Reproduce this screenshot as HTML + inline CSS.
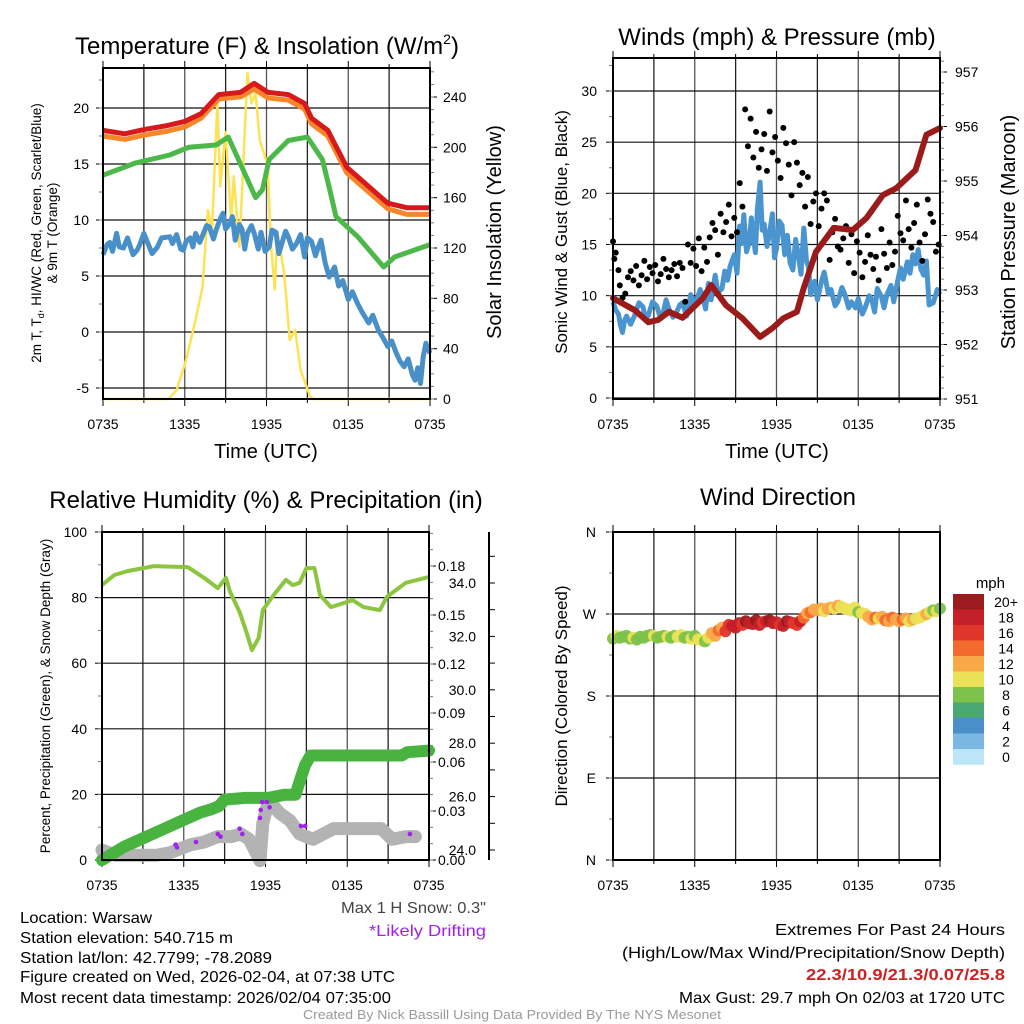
<!DOCTYPE html>
<html><head><meta charset="utf-8"><style>
html,body{margin:0;padding:0;background:#fff;}
svg{display:block;font-family:"Liberation Sans",sans-serif;}
</style></head><body>
<svg id="fig" width="1024" height="1024" viewBox="0 0 1024 1024" xmlns="http://www.w3.org/2000/svg">
<rect x="0" y="0" width="1024" height="1024" fill="#fff"/>
<g id="layer"></g>
<text x="267" y="54" font-size="24" text-anchor="middle">Temperature (F) &amp; Insolation (W/m<tspan font-size="14" dy="-10">2</tspan><tspan dy="10">)</tspan></text>
<text x="777" y="45" font-size="24" text-anchor="middle">Winds (mph) &amp; Pressure (mb)</text>
<text x="266" y="508" font-size="24" text-anchor="middle">Relative Humidity (%) &amp; Precipitation (in)</text>
<text x="778" y="505" font-size="24" text-anchor="middle">Wind Direction</text>
<text x="266" y="458" font-size="20" text-anchor="middle">Time (UTC)</text>
<text x="777" y="458" font-size="20" text-anchor="middle">Time (UTC)</text>
<text transform="translate(41,233) rotate(-90)" font-size="13.5" text-anchor="middle">2m T, T<tspan font-size="9" dy="3">d</tspan><tspan dy="-3">, HI/WC (Red, Green, Scarlet/Blue)</tspan></text>
<text transform="translate(57,233) rotate(-90)" font-size="13.5" text-anchor="middle">&amp; 9m T (Orange)</text>
<text transform="translate(501,232) rotate(-90)" font-size="20" text-anchor="middle">Solar Insolation (Yellow)</text>
<text transform="translate(567,232) rotate(-90)" font-size="17" text-anchor="middle">Sonic Wind &amp; Gust (Blue, Black)</text>
<text transform="translate(1015,232) rotate(-90)" font-size="20" text-anchor="middle">Station Pressure (Maroon)</text>
<text transform="translate(50,696) rotate(-90)" font-size="13.5" text-anchor="middle">Percent, Precipitation (Green), &amp; Snow Depth (Gray)</text>
<text transform="translate(567,696) rotate(-90)" font-size="17" text-anchor="middle">Direction (Colored By Speed)</text>
<text x="1005" y="588" font-size="15" text-anchor="end">mph</text>
<g font-size="16">
<text x="486" y="913" text-anchor="end" textLength="145" lengthAdjust="spacingAndGlyphs" fill="#444">Max 1 H Snow: 0.3"</text>
<text x="486" y="936" text-anchor="end" textLength="117" lengthAdjust="spacingAndGlyphs" fill="#a020f0">*Likely Drifting</text>
<text x="20" y="923" textLength="132" lengthAdjust="spacingAndGlyphs">Location: Warsaw</text>
<text x="20" y="943" textLength="213" lengthAdjust="spacingAndGlyphs">Station elevation: 540.715 m</text>
<text x="20" y="963" textLength="252" lengthAdjust="spacingAndGlyphs">Station lat/lon: 42.7799; -78.2089</text>
<text x="20" y="982" textLength="375" lengthAdjust="spacingAndGlyphs">Figure created on Wed, 2026-02-04, at 07:38 UTC</text>
<text x="20" y="1003" textLength="371" lengthAdjust="spacingAndGlyphs">Most recent data timestamp: 2026/02/04 07:35:00</text>
<text x="1005" y="935" text-anchor="end" textLength="230" lengthAdjust="spacingAndGlyphs">Extremes For Past 24 Hours</text>
<text x="1005" y="958" text-anchor="end" textLength="383" lengthAdjust="spacingAndGlyphs">(High/Low/Max Wind/Precipitation/Snow Depth)</text>
<text x="1005" y="980" text-anchor="end" textLength="199" lengthAdjust="spacingAndGlyphs" fill="#cc2222" font-weight="bold">22.3/10.9/21.3/0.07/25.8</text>
<text x="1005" y="1003" text-anchor="end" textLength="326" lengthAdjust="spacingAndGlyphs">Max Gust: 29.7 mph On 02/03 at 1720 UTC</text>
<text x="512" y="1019" text-anchor="middle" font-size="13" textLength="418" lengthAdjust="spacingAndGlyphs" fill="#999">Created By Nick Bassill Using Data Provided By The NYS Mesonet</text>
</g>
</svg>
<script>
const xTickLabels = ["0735","1335","1935","0135","0735"];
const tempHours = [0,1.6,3.1,4.6,6,7.2,8.5,10.1,11.1,12.1,13.6,14.8,15.3,16.5,17.9,19.4,20.9,22.3,24];
const tempRed   = [18.0,17.7,18.1,18.4,18.8,19.5,21.2,21.4,22.2,21.4,21.2,20.4,19.1,18.0,14.7,13.1,11.5,11.1,11.1];
const tempOrange= [17.5,17.2,17.6,17.9,18.3,19.1,20.8,21.0,21.7,20.9,20.7,19.9,18.6,17.5,14.2,12.6,11.0,10.5,10.5];
const dewHours  = [0,2.4,4.9,6.3,8.3,9.2,10.2,11.2,11.7,12.2,13.6,15,16.1,16.6,17.1,18.7,20.6,21.4,24];
const dewGreen  = [14.0,15.1,15.8,16.5,16.7,17.4,14.7,12.0,12.7,15.4,17.1,17.4,15.4,12.9,10.3,8.5,5.8,6.7,7.8];
const wcHours   = [0,0.3,0.5,0.7,1,1.2,1.5,1.8,2.2,2.5,2.7,3,3.2,3.6,4,4.3,4.9,5.1,5.4,5.7,5.9,6.1,6.4,6.6,6.8,7.1,7.3,7.6,7.8,8.1,8.3,8.6,8.8,9,9.2,9.5,9.7,10,10.2,10.4,10.6,10.9,11.1,11.4,11.6,11.9,12.2,12.4,12.7,12.9,13.1,13.4,13.6,13.9,14.2,14.5,14.8,15,15.3,15.6,15.8,16,16.3,16.6,17,17.3,17.6,18,18.3,18.7,19,19.5,19.8,20.2,20.5,20.9,21.2,21.5,21.8,22.1,22.4,22.7,22.9,23.1,23.3,23.5,23.7,24];
const wcBlue    = [6.9,7.8,8.0,7.2,8.8,7.6,7.5,8.4,6.9,7.3,7.8,8.8,8.2,7.0,7.6,8.4,8.5,7.9,8.7,7.4,7.3,8.1,8.4,7.6,8.8,8.0,8.6,9.5,9.4,8.3,9.1,10.1,10.6,9.2,9.5,10.3,8.2,9.6,9.2,7.4,8.8,9.5,8.8,7.4,8.9,7.2,7.6,9.1,8.9,7.0,7.8,9.0,8.5,7.4,7.9,8.7,6.7,8.4,8.1,6.8,7.6,8.2,6.2,4.9,5.8,4.1,4.6,2.9,3.6,2.5,1.8,0.8,1.5,0.2,-0.4,-1.3,-0.8,-1.8,-2.6,-3.1,-2.4,-3.8,-4.3,-3.2,-4.6,-2.2,-1.0,-1.9];
const solarHours= [0,4.8,5.4,6.1,6.8,7.3,7.7,8,8.4,8.6,9,9.4,9.6,10,10.2,10.6,10.9,11.2,11.5,12.1,12.3,12.6,12.8,13.3,13.7,14.1,14.5,15.2,15.5,24];
const solar     = [0,0,7,31,63,89,150,134,236,169,212,142,177,121,164,259,235,243,206,185,126,87,132,100,47,55,23,2,0,0];
const tempTicks = [-5,0,5,10,15,20];
const solarTicks= [0,40,80,120,160,200,240];
const windHours = [0,0.2,0.4,0.55,0.7,0.85,1,1.3,1.6,1.9,2.2,2.4,2.6,2.9,3.2,3.5,3.7,3.9,4.1,4.4,4.6,4.9,5.1,5.4,5.7,5.9,6.1,6.4,6.6,6.8,7,7.2,7.5,7.7,8,8.2,8.4,8.6,8.9,9.1,9.3,9.45,9.6,9.8,10,10.15,10.3,10.45,10.6,10.8,10.95,11.1,11.3,11.5,11.7,11.85,12,12.2,12.4,12.6,12.8,13,13.2,13.4,13.6,13.8,14,14.2,14.35,14.5,14.8,15,15.3,15.5,15.8,16,16.3,16.5,16.8,17,17.3,17.5,17.8,18,18.3,18.5,18.8,19,19.2,19.4,19.7,19.9,20.1,20.4,20.6,20.9,21.1,21.3,21.6,21.8,22,22.2,22.4,22.6,22.8,23,23.2,23.5,23.8,24];
const windBlue  = [9.4,8.6,8.2,7.1,6.4,7.6,8.0,7.2,8.1,9.3,8.9,7.6,8.1,9.4,9.0,7.8,8.4,9.6,8.7,7.9,8.2,9.1,9.3,8.0,10.1,9.2,9.4,10.6,9.8,8.7,11.2,9.6,12.0,10.3,10.7,12.4,11.5,12.9,14.0,12.2,16.8,15.1,17.9,14.3,15.2,17.6,15.9,14.2,18.5,21.1,16.4,17.0,14.8,16.2,18.0,13.7,14.6,17.3,16.9,14.0,15.9,13.2,12.5,15.5,14.0,12.1,16.6,13.4,12.8,10.1,11.4,9.6,11.4,12.3,10.2,10.6,9.0,9.4,10.8,10.2,8.8,9.4,8.8,9.7,8.2,8.8,10.0,9.6,8.4,10.7,9.9,8.8,10.1,11.0,9.4,11.5,12.7,11.6,13.3,12.2,14.0,13.1,14.5,12.6,12.0,13.4,9.1,9.3,10.6,10.1];
const presHours = [0,1.6,2.6,3.3,4.1,5.1,6.6,7.2,8.3,9.5,10.8,11.7,12.5,13.5,14,14.9,16.2,17.6,18.6,19.8,20.8,22.2,23,24];
const pressure  = [952.85,952.63,952.41,952.45,952.6,952.49,952.85,953.09,952.72,952.48,952.14,952.3,952.48,952.6,953.04,953.7,954.14,954.1,954.32,954.74,954.87,955.2,955.85,955.97];
const gustHours = [0,0.1,0.2,0.4,0.5,0.7,0.9,1.1,1.3,1.5,1.7,1.9,2.1,2.3,2.5,2.7,2.9,3.1,3.3,3.5,3.7,3.9,4.1,4.3,4.5,4.7,4.9,5.1,5.3,5.5,5.7,5.9,6.1,6.3,6.5,6.7,6.9,7.1,7.3,7.5,7.7,7.9,8.1,8.3,8.5,8.7,8.9,9.1,9.3,9.5,9.7,9.9,10.1,10.3,10.5,10.7,10.9,11.1,11.3,11.5,11.7,11.9,12.1,12.3,12.5,12.7,12.9,13.1,13.3,13.5,13.7,13.9,14.1,14.3,14.5,14.7,14.9,15.1,15.3,15.5,15.7,15.9,16.1,16.3,16.5,16.7,16.9,17.1,17.3,17.5,17.7,17.9,18.1,18.3,18.5,18.7,18.9,19.1,19.3,19.5,19.7,19.9,20.1,20.3,20.5,20.7,20.9,21.1,21.3,21.5,21.7,21.9,22.1,22.3,22.5,22.7,22.9,23.1,23.3,23.5,23.7,23.9];
const gust      = [15.3,13.6,14.2,12.5,11.0,9.8,10.2,11.8,12.4,11.5,12.9,11.0,12.0,13.4,11.6,12.8,12.2,13.0,11.4,12.1,13.6,12.6,11.8,12.5,13.1,11.9,13.2,12.7,9.4,15.0,13.2,14.6,12.9,15.6,12.4,14.7,13.3,15.7,17.1,16.4,14.0,18.0,16.2,17.2,18.9,15.8,17.6,16.2,21.0,18.7,28.2,24.6,27.3,23.5,26.0,22.5,24.3,25.8,22.2,28.0,24.0,25.5,23.2,21.5,26.4,24.9,22.8,19.8,25.0,23.0,20.8,22.0,18.7,21.6,17.0,19.2,20.0,16.8,18.5,20.0,19.3,13.5,16.2,17.5,14.8,14.5,15.6,16.8,13.2,16.0,12.2,15.3,14.2,11.8,13.3,15.9,14.0,12.6,13.8,11.5,16.5,14.1,12.7,15.2,13.0,14.3,17.8,16.1,15.4,19.3,16.5,14.7,17.1,18.9,15.2,13.4,16.0,19.4,18.0,17.2,14.3,15.0];
const windTicks = [0,5,10,15,20,25,30];
const presTicks = [951,952,953,954,955,956,957];
const rhHours = [0,0.9,1.9,3.8,6.3,7.5,8.5,9.1,9.4,10.1,10.6,11,11.5,11.8,12.6,13.5,14,14.5,15,15.6,16,16.8,18.4,19.2,20.4,20.9,22.3,24];
const rh      = [83.8,86.9,88.1,89.6,89.3,86,82.9,86,81.7,75.6,69.5,64,67.7,76.2,80.8,85.4,83.8,84.5,89,89,80.8,77.1,79.2,77.1,76.2,80.2,84.5,86.3];
const precipHours = [0,0.8,1.6,2.4,3.2,4.0,4.8,5.6,6.4,7.2,8.0,8.6,9.0,10.5,11.5,12.2,12.8,13.4,14.2,14.5,14.9,15.3,16,18,20,22,22.4,24];
const precip      = [0,0.004,0.008,0.011,0.014,0.017,0.020,0.023,0.026,0.029,0.031,0.033,0.037,0.038,0.038,0.038,0.039,0.040,0.040,0.048,0.058,0.064,0.064,0.064,0.064,0.064,0.066,0.067];
const snowHours = [0,0.5,1,2,3,4,5,5.5,6.5,7.5,8.5,9.5,10.2,10.8,11.2,11.6,11.8,12.1,12.5,13,13.8,14.5,15.5,17,19,20.5,21.3,22.3,23];
const snowDepth = [24.0,23.9,23.8,23.8,23.8,23.8,23.9,24.0,24.2,24.3,24.5,24.5,24.6,24.4,24.0,23.6,25.0,25.6,25.7,25.4,25.1,24.6,24.4,24.8,24.8,24.8,24.4,24.5,24.5];
const driftHours = [5.4,5.5,6.9,8.5,8.7,10.1,10.3,11.6,11.65,11.75,12.1,12.3,14.6,14.9,22.6];
const driftDepth = [24.2,24.1,24.3,24.6,24.5,24.8,24.6,25.2,25.5,25.8,25.8,25.6,24.9,24.9,24.6];
const rhTicks = [0,20,40,60,80,100];
const precipTicks = [0,0.03,0.06,0.09,0.12,0.15,0.18];
const snowTicks = [24,26,28,30,32,34];
const dirHours = [0,0.25,0.5,0.75,1,1.25,1.5,1.75,2,2.25,2.5,2.75,3,3.25,3.5,3.75,4,4.25,4.5,4.75,5,5.25,5.5,5.75,6,6.25,6.5,6.75,7,7.25,7.5,7.75,8,8.25,8.5,8.75,9,9.25,9.5,9.75,10,10.25,10.5,10.75,11,11.25,11.5,11.75,12,12.25,12.5,12.75,13,13.25,13.5,13.75,14,14.25,14.5,14.75,15,15.25,15.5,15.75,16,16.25,16.5,16.75,17,17.25,17.5,17.75,18,18.25,18.5,18.75,19,19.25,19.5,19.75,20,20.25,20.5,20.75,21,21.25,21.5,21.75,22,22.25,22.5,22.75,23,23.25,23.5,23.75,24];
const dirDeg = [243,246,244,245,246,243,244,242,245,244,246,247,246,244,245,246,245,244,246,245,247,244,245,243,246,242,241,240,244,249,246,252,255,251,258,257,255,260,258,262,260,259,263,258,261,262,263,260,261,258,257,262,261,260,258,262,266,271,272,275,274,276,273,276,277,276,279,278,276,275,274,277,272,271,270,267,264,266,265,267,263,262,266,264,262,264,265,262,264,265,266,268,270,272,274,273,276];
const dirSpeed = [8,9,8,8,7,8,9,8,8,7,8,8,9,8,8,8,9,8,8,10,9,8,8,9,8,10,9,8,9,11,12,13,12,15,16,17,18,17,16,19,18,17,20,18,16,17,19,18,17,16,18,20,17,16,15,17,14,12,13,11,12,11,10,11,12,10,11,10,9,9,10,9,8,9,10,11,12,13,10,12,13,12,14,12,11,13,12,10,11,9,10,10,11,9,8,10,8];
const speedColors = ["#bce6f8","#7ab8e3","#4a8fc9","#4aa872","#7dc24b","#ebe156","#f9a848","#f26b2c","#e0362a","#c4202a","#9b1b1e"];
const speedLabels = ["0","2","4","6","8","10","12","14","16","18","20+"];
const dirTicks = [0,90,180,270,360];
const dirLabels = ["N","E","S","W","N"];

const NS = "http://www.w3.org/2000/svg";
const layer = document.getElementById("layer");
function mk(tag, attrs, parent){
  const el = document.createElementNS(NS, tag);
  for (const k in attrs) el.setAttribute(k, attrs[k]);
  (parent || layer).appendChild(el);
  return el;
}
function linScale(d0,d1,r0,r1){ return v => r0 + (v-d0)*(r1-r0)/(d1-d0); }
function pathFrom(xs, ys, fx, fy){
  let d = "";
  for (let i=0;i<xs.length;i++) d += (i?"L":"M") + fx(xs[i]).toFixed(1) + "," + fy(ys[i]).toFixed(1);
  return d;
}
function txt(x,y,s,anchor,size,parent){
  const t = mk("text",{x:x,y:y,"font-size":size||14,"text-anchor":anchor||"middle"},parent);
  t.textContent = s;
  return t;
}
function frame(name, x0, x1, yTop, yBot, hGridYs){
  const g = mk("g",{});
  
  
  const fx = linScale(0,24,x0,x1);
  for (let h=3; h<24; h+=3){
    const l = mk("line",{x1:fx(h),x2:fx(h),y1:yTop,y2:yBot,stroke:(h%6===0)?"#555":"#222","stroke-width":1.3},g);
    
    
  }
  for (const yy of hGridYs){
    const l = mk("line",{x1:x0,x2:x1,y1:yy,y2:yy,stroke:"#111","stroke-width":1.2},g);
    
    
  }
  for (let h=0; h<=24; h+=3){
    const len = (h%6===0)?7:4;
    const tk = mk("line",{x1:fx(h),x2:fx(h),y1:yBot,y2:yBot+len,stroke:"#000","stroke-width":1},g);
    
    
    const tk2 = mk("line",{x1:fx(h),x2:fx(h),y1:yTop,y2:yTop-len,stroke:"#000","stroke-width":1},g);
    
    
    if (h%6===0){
      const t = txt(fx(h), yBot+30, xTickLabels[h/6], "middle", 14, g);
      
      
    }
  }
  return {g, fx};
}
function border(g,x0,x1,yTop,yBot){
  const r = mk("rect",{x:x0,y:yTop,width:x1-x0,height:yBot-yTop,fill:"none",stroke:"#000","stroke-width":2},g);
  
  
}
function yAxis(g, xAxis, side, fy, ticks, labels, minorStep, dMin, dMax, labelX, anchor){
  const dir = side==="left" ? -1 : 1;
  for (let i=0;i<ticks.length;i++){
    const y = fy(ticks[i]);
    const tk = mk("line",{x1:xAxis,x2:xAxis+dir*7,y1:y,y2:y,stroke:"#000","stroke-width":1},g);
    
    
    const t = txt(labelX, y+5, labels[i], anchor, 14, g);
    
    
  }
  if (minorStep){
    const n0 = Math.ceil(dMin/minorStep - 1e-6), n1 = Math.floor(dMax/minorStep + 1e-6);
    for (let n=n0;n<=n1;n++){
      const y = fy(n*minorStep);
      const tk = mk("line",{x1:xAxis,x2:xAxis+dir*4,y1:y,y2:y,stroke:"#777","stroke-width":1},g);
      
      
    }
  }
}

(function(){
  const x0=103,x1=430,yT=68,yB=399;
  const fyT = linScale(0,20,332,108);
  const fyS = linScale(0,240,399,97);
  const {g,fx} = frame("temperature",x0,x1,yT,yB,tempTicks.map(fyT));
  yAxis(g,x0,"left",fyT,tempTicks,tempTicks.map(String),2.5,-6,23.5,89,"end");
  yAxis(g,x1,"right",fyS,solarTicks,solarTicks.map(String),10,0,260,443,"start");
  let p;
  p = mk("path",{d:pathFrom(solarHours,solar,fx,fyS),fill:"none",stroke:"#fde253","stroke-width":2.5,"stroke-linejoin":"round"},g);
  
  
  p = mk("path",{d:pathFrom(wcHours,wcBlue,fx,fyT),fill:"none",stroke:"#4a90c8","stroke-width":5,"stroke-linejoin":"round"},g);
  
  
  p = mk("path",{d:pathFrom(dewHours,dewGreen,fx,fyT),fill:"none",stroke:"#4cb849","stroke-width":5,"stroke-linejoin":"round"},g);
  
  
  p = mk("path",{d:pathFrom(tempHours,tempOrange,fx,fyT),fill:"none",stroke:"#f7862a","stroke-width":5,"stroke-linejoin":"round"},g);
  
  
  p = mk("path",{d:pathFrom(tempHours,tempRed,fx,fyT),fill:"none",stroke:"#d7191c","stroke-width":5,"stroke-linejoin":"round"},g);
  
  
  border(g,x0,x1,yT,yB);
})();

(function(){
  const x0=613,x1=940,yT=58,yB=399;
  const fyW = linScale(0,30,398,91);
  const fyP = linScale(951,957,399,72);
  const {g,fx} = frame("winds",x0,x1,yT,yB,windTicks.map(fyW));
  yAxis(g,x0,"left",fyW,windTicks,windTicks.map(String),2.5,0,33,597,"end");
  yAxis(g,x1,"right",fyP,presTicks,presTicks.map(String),0.2,951,957.2,955,"start");
  let p = mk("path",{d:pathFrom(windHours,windBlue,fx,fyW),fill:"none",stroke:"#4a95d0","stroke-width":5,"stroke-linejoin":"round"},g);
  
  
  for (let i=0;i<gust.length;i++){
    const c = mk("circle",{cx:fx(gustHours[i]),cy:fyW(gust[i]),r:3,fill:"#000"},g);
    
    
  }
  p = mk("path",{d:pathFrom(presHours,pressure,fx,fyP),fill:"none",stroke:"#9b1b1b","stroke-width":6,"stroke-linejoin":"round","stroke-linecap":"round"},g);
  
  
  border(g,x0,x1,yT,yB);
})();

(function(){
  const x0=102,x1=429,yT=532,yB=860;
  const fyR = linScale(0,100,860,532);
  const fyPr = linScale(0,0.18,860,566);
  const fyD = linScale(24,34,850,583);
  const {g,fx} = frame("humidity",x0,x1,yT,yB,rhTicks.map(fyR));
  yAxis(g,x0,"left",fyR,rhTicks,rhTicks.map(String),10,0,100,87,"end");
  yAxis(g,x1,"right",fyPr,precipTicks,precipTicks.map(v=>v.toFixed(2)),0.01,0,0.2,438,"start");
  const ax = mk("line",{x1:489,x2:489,y1:532,y2:860,stroke:"#000","stroke-width":2},g);
  
  
  for (let v=24; v<=35; v++){
    const tk = mk("line",{x1:489,x2:495,y1:fyD(v),y2:fyD(v),stroke:"#000","stroke-width":1},g);
    
    
  }
  for (const v of snowTicks){
    const t = txt(476, fyD(v)+5, v.toFixed(1), "end", 14, g);
    
    
  }
  let p = mk("path",{d:pathFrom(rhHours,rh,fx,fyR),fill:"none",stroke:"#8cc63f","stroke-width":4,"stroke-linejoin":"round"},g);
  
  
  p = mk("path",{d:pathFrom(snowHours,snowDepth,fx,fyD),fill:"none",stroke:"#b3b3b3","stroke-width":13,"stroke-linejoin":"round","stroke-linecap":"round"},g);
  
  
  p = mk("path",{d:pathFrom(precipHours,precip,fx,fyPr),fill:"none",stroke:"#48b43f","stroke-width":12,"stroke-linejoin":"round","stroke-linecap":"round"},g);
  
  
  for (let i=0;i<driftHours.length;i++){
    const c = mk("circle",{cx:fx(driftHours[i]),cy:fyD(driftDepth[i]),r:2.3,fill:"#a020f0"},g);
    
    
  }
  border(g,x0,x1,yT,yB);
})();

(function(){
  const x0=613,x1=940,yT=532,yB=860;
  const fyD = linScale(0,360,860,532);
  const {g,fx} = frame("wind-direction",x0,x1,yT,yB,dirTicks.map(fyD));
  yAxis(g,x0,"left",fyD,dirTicks,dirLabels,45,0,360,596,"end");
  for (let i=0;i<dirDeg.length;i++){
    const idx = Math.min(10, Math.max(0, Math.round(dirSpeed[i]/2)));
    const c = mk("circle",{cx:fx(dirHours[i]),cy:fyD(dirDeg[i]),r:6,fill:speedColors[idx],"fill-opacity":0.95},g);
    
    
  }
  border(g,x0,x1,yT,yB);
  const cb = mk("g",{});
  
  
  const bh = 15.5;
  for (let k=0;k<speedColors.length;k++){
    const j = speedColors.length-1-k;
    const r = mk("rect",{x:953,y:594+k*bh,width:31,height:bh+0.3,fill:speedColors[j]},cb);
    
    
    const t = txt(1006, 594+k*bh+bh/2+5, speedLabels[j], "middle", 14, cb);
    
    
  }
})();
</script>
</body></html>
